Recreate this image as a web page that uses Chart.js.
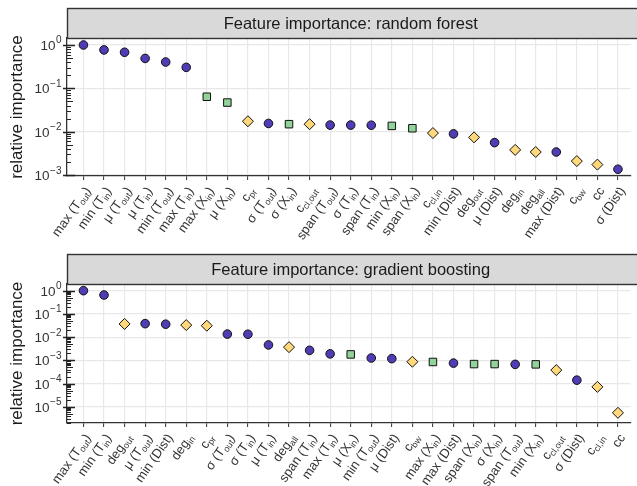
<!DOCTYPE html>
<html>
<head>
<meta charset="utf-8">
<script src="https://cdn.jsdelivr.net/npm/chart.js@4.4.0/dist/chart.umd.min.js"></script>
<style>
  body { margin: 0; background: #fff; }
  .panel { position: absolute; left: 0; width: 637px; }
  #top { top: 0; height: 245px; }
  #bot { top: 245px; height: 241px; }
</style>
</head>
<body>
<div class="panel" id="top"><canvas id="rf"></canvas></div>
<div class="panel" id="bot"><canvas id="gb"></canvas></div>
<script>
// ---- data: random forest ----
var rfLabels = ['max (T_{out})', 'min (T_{in})', 'μ (T_{out})', 'μ (T_{in})', 'min (T_{out})', 'max (T_{in})',
    'max (X_{in})', 'μ (X_{in})', 'c_{pr}', 'σ (T_{out})', 'σ (X_{in})', 'c_{cl,out}', 'span (T_{out})',
    'σ (T_{in})', 'span (T_{in})', 'min (X_{in})', 'span (X_{in})', 'c_{cl,in}', 'min (Dist)', 'deg_{out}',
    'μ (Dist)', 'deg_{in}', 'deg_{all}', 'max (Dist)', 'c_{bw}', 'cc', 'σ (Dist)'];
var rfValues = [1.0, 0.77, 0.68, 0.49, 0.405, 0.305, 0.064, 0.047, 0.0174, 0.0155, 0.0149, 0.0149, 0.0142,
    0.0142, 0.0141, 0.0136, 0.012, 0.0093, 0.0089, 0.0074, 0.0056, 0.0038, 0.0034, 0.0034, 0.0021, 0.00174, 0.00136];
// t = temporal / distance, x = X features, n = network
var rfGroups = ['t', 't', 't', 't', 't', 't', 'x', 'x', 'n', 't', 'x', 'n', 't', 't', 't', 'x', 'x', 'n', 't', 'n',
    't', 'n', 'n', 't', 'n', 'n', 't'];
var rfDecades = [-3, -2, -1, 0];

// ---- data: gradient boosting ----
var gbLabels = ['max (T_{out})', 'min (T_{in})', 'deg_{out}', 'μ (T_{out})', 'min (Dist)', 'deg_{in}', 'c_{pr}',
    'σ (T_{out})', 'σ (T_{in})', 'μ (T_{in})', 'deg_{all}', 'span (T_{in})', 'max (T_{in})', 'μ (X_{in})',
    'min (T_{out})', 'μ (Dist)', 'c_{bw}', 'max (X_{in})', 'max (Dist)', 'span (X_{in})', 'σ (X_{in})',
    'span (T_{out})', 'min (X_{in})', 'c_{cl,out}', 'σ (Dist)', 'c_{cl,in}', 'cc'];
var gbValues = [1.0, 0.65, 0.037, 0.038, 0.036, 0.033, 0.031, 0.0135, 0.0133, 0.0046, 0.0037, 0.0027, 0.0019,
    0.0018, 0.00126, 0.00118, 0.00087, 0.00085, 0.00076, 0.00069, 0.00069, 0.00067, 0.00067, 0.00038, 0.00014,
    0.000072, 0.0000055];
var gbGroups = ['t', 't', 'n', 't', 't', 'n', 'n', 't', 't', 't', 'n', 't', 't', 'x', 't', 't', 'n', 'x', 't', 'x',
    'x', 't', 'x', 'n', 't', 'n', 'n'];
var gbDecades = [-5, -4, -3, -2, -1, 0];

var FONT = '"Liberation Sans", Arial, sans-serif';
var fills = { t: '#4e3db5', x: '#92d39c', n: '#ffd87c' };
var shapes = { t: 'circle', x: 'rect', n: 'rectRot' };
var sizes = { t: 4.3, x: 5.3, n: 5.5 };
var supMap = { '-': '\u2212' };

// split "max (T_{out})" into plain and subscript pieces
function splitRich(text) {
    var parts = [], re = /_\{([^}]*)\}/g, last = 0, m;
    while ((m = re.exec(text))) {
        if (m.index > last) parts.push({ t: text.slice(last, m.index), sub: false });
        parts.push({ t: m[1], sub: true });
        last = re.lastIndex;
    }
    if (last < text.length) parts.push({ t: text.slice(last), sub: false });
    return parts;
}

var decor = {
    id: 'decor',
    afterDraw: function (chart, args, opts) {
        var ctx = chart.ctx, area = chart.chartArea;
        var xs = chart.scales.x, ys = chart.scales.y;
        ctx.save();

        // facet strip
        var top = area.top - 30;
        ctx.fillStyle = '#d9d9d9';
        ctx.fillRect(area.left, top, chart.width, 30);
        ctx.strokeStyle = '#333';
        ctx.lineWidth = 1.4;
        ctx.strokeRect(area.left + 0.5, top + 0.5, chart.width + 5, 30);
        ctx.fillStyle = '#1a1a1a';
        ctx.font = '16.5px ' + FONT;
        ctx.textAlign = 'center';
        ctx.textBaseline = 'middle';
        ctx.fillText(opts.strip, xs.getPixelForValue(14), top + 16);

        // log ticks on the y axis
        ctx.strokeStyle = '#222';
        ys.ticks.forEach(function (t) {
            var py = Math.round(ys.getPixelForValue(t.value)) + 0.5;
            ctx.beginPath();
            if (t.mant === 1) {
                ctx.lineWidth = 1.5;
                ctx.moveTo(area.left - 4, py);
                ctx.lineTo(area.left + 8, py);
            } else {
                ctx.lineWidth = 1;
                ctx.moveTo(area.left, py);
                ctx.lineTo(area.left + (t.mant === 5 ? 6 : 4), py);
            }
            ctx.stroke();
        });

        // y tick labels 10^k
        ctx.fillStyle = '#333';
        ctx.textBaseline = 'alphabetic';
        ctx.textAlign = 'left';
        opts.decades.forEach(function (e) {
            var py = ys.getPixelForValue(Math.pow(10, e));
            var sup = String(e).replace('-', supMap['-']);
            ctx.font = '10px ' + FONT;
            var ws = ctx.measureText(sup).width;
            ctx.font = '13.5px ' + FONT;
            var wb = ctx.measureText('10').width;
            var x0 = area.left - 6 - ws - wb;
            ctx.fillText('10', x0, py + 5);
            ctx.font = '10px ' + FONT;
            ctx.fillText(sup, x0 + wb + 0.5, py - 1.5);
        });

        // rotated x labels with subscripts
        ctx.fillStyle = '#333';
        opts.labels.forEach(function (lab, i) {
            var px = xs.getPixelForValue(i + 1);
            var parts = splitRich(lab);
            var w = 0;
            parts.forEach(function (p) {
                ctx.font = (p.sub ? '9px ' : '13px ') + FONT;
                p.w = ctx.measureText(p.t).width;
                w += p.w;
            });
            ctx.save();
            ctx.translate(px + 4, area.bottom + 12);
            ctx.rotate(-55 * Math.PI / 180);
            var cx = -w;
            parts.forEach(function (p) {
                ctx.font = (p.sub ? '9px ' : '13px ') + FONT;
                ctx.fillText(p.t, cx, p.sub ? 7 : 4.5);
                cx += p.w;
            });
            ctx.restore();
        });
        ctx.restore();
    }
};

function makeChart(id, labels, values, groups, decades, yMin, yMax, stripText, axisHeight) {
    var points = values.map(function (v, i) { return { x: i + 1, y: v }; });
    return new Chart(document.getElementById(id), {
        type: 'scatter',
        data: {
            datasets: [{
                data: points,
                pointStyle: groups.map(function (g) { return shapes[g]; }),
                pointRadius: groups.map(function (g) { return sizes[g]; }),
                pointHoverRadius: groups.map(function (g) { return sizes[g]; }),
                backgroundColor: groups.map(function (g) { return fills[g]; }),
                borderColor: '#111',
                borderWidth: 1
            }]
        },
        options: {
            responsive: true,
            maintainAspectRatio: false,
            animation: false,
            devicePixelRatio: 1,
            layout: { padding: { top: stripText.top, right: 1, left: 0, bottom: 0 } },
            plugins: {
                legend: { display: false },
                tooltip: { enabled: false },
                decor: { strip: stripText.text, decades: decades, labels: labels }
            },
            scales: {
                x: {
                    type: 'linear',
                    min: 0.2,
                    max: 27.61,
                    afterBuildTicks: function (scale) {
                        scale.ticks = labels.map(function (l, i) { return { value: i + 1 }; });
                    },
                    afterFit: function (scale) { scale.height = axisHeight; },
                    ticks: { display: false },
                    grid: { color: '#e8e8e8', lineWidth: 1.2, drawTicks: true, tickLength: 4, tickColor: '#333', tickWidth: 1 },
                    border: { display: true, color: '#333', width: 1.3 }
                },
                y: {
                    type: 'logarithmic',
                    min: yMin,
                    max: yMax,
                    afterBuildTicks: function (scale) {
                        var t = [];
                        for (var e = decades[0] - 1; e <= 1; e++) {
                            for (var m = 1; m <= 9; m++) {
                                var v = m * Math.pow(10, e);
                                if (v >= scale.min && v <= scale.max) t.push({ value: v, mant: m });
                            }
                        }
                        scale.ticks = t;
                    },
                    afterFit: function (scale) { scale.width = 67; },
                    ticks: { display: false },
                    grid: {
                        color: function (c) { return c.tick && c.tick.mant === 1 ? '#e8e8e8' : 'rgba(0,0,0,0)'; },
                        lineWidth: 1.2,
                        drawTicks: false
                    },
                    border: { display: true, color: '#333', width: 1.3 },
                    title: {
                        display: true,
                        text: 'relative importance',
                        color: '#1a1a1a',
                        font: { family: FONT, size: 17 },
                        padding: { top: 7, bottom: 0 }
                    }
                }
            }
        },
        plugins: [decor]
    });
}

makeChart('rf', rfLabels, rfValues, rfGroups, rfDecades, 0.00095, 1.45,
    { top: 38, text: 'Feature importance: random forest' }, 69);
makeChart('gb', gbLabels, gbValues, gbGroups, gbDecades, 0.000002, 1.94,
    { top: 39, text: 'Feature importance: gradient boosting' }, 63);
</script>
</body>
</html>
